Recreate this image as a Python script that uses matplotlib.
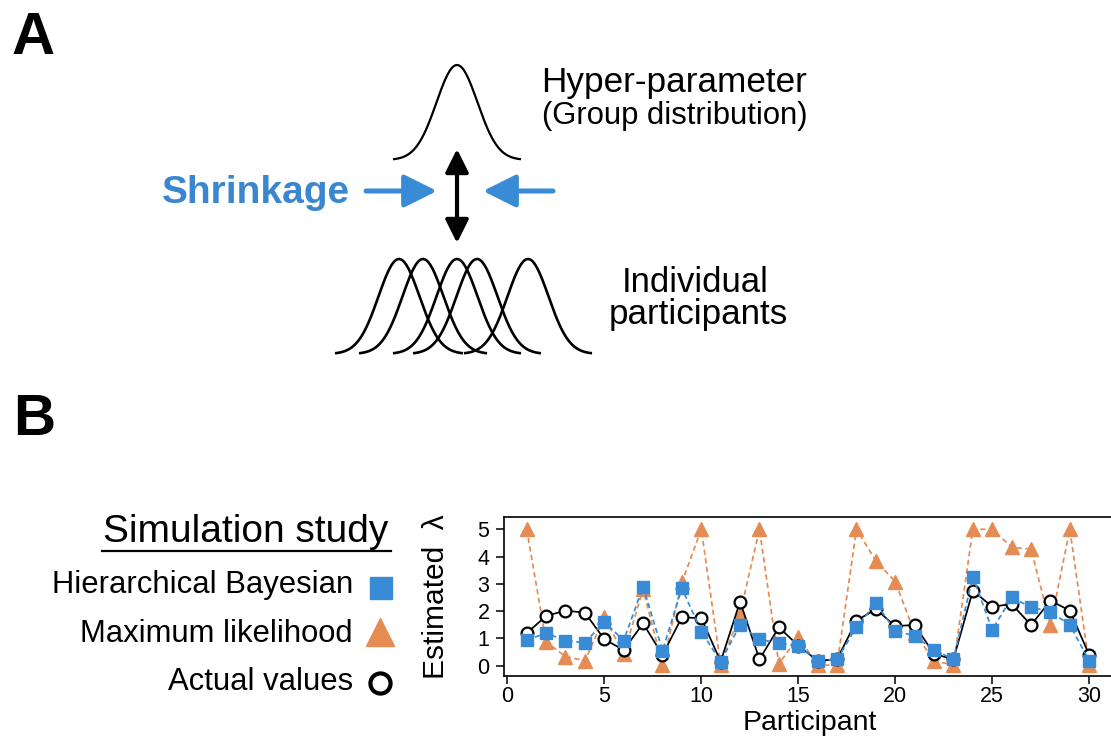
import numpy as np
import matplotlib
matplotlib.use("Agg")
import matplotlib.pyplot as plt
from matplotlib.patches import FancyArrowPatch

plt.rcParams['font.family'] = ['Liberation Sans', 'DejaVu Sans']

# ---------------- data ----------------
participants = list(range(1, 31))
hierarchical_bayes = [0.94, 1.19, 0.92, 0.84, 1.61, 0.92, 2.90, 0.55, 2.84, 1.25,
                      0.15, 1.49, 0.97, 0.82, 0.73, 0.18, 0.23, 1.41, 2.29, 1.28,
                      1.09, 0.57, 0.23, 3.26, 1.31, 2.50, 2.14, 1.98, 1.49, 0.18]
max_likelihood = [5.00, 0.88, 0.33, 0.18, 1.78, 0.43, 2.80, 0.02, 3.05, 5.00,
                  0.02, 1.90, 5.00, 0.06, 1.06, 0.02, 0.02, 5.00, 3.84, 3.08,
                  1.20, 0.18, 0.02, 5.00, 5.00, 4.34, 4.27, 1.49, 5.00, 0.02]
actual_values = [1.19, 1.82, 2.02, 1.94, 0.97, 0.57, 1.55, 0.39, 1.77, 1.74,
                 0.15, 2.35, 0.23, 1.41, 0.73, 0.18, 0.23, 1.65, 2.07, 1.45,
                 1.49, 0.43, 0.23, 2.75, 2.16, 2.26, 1.49, 2.38, 2.02, 0.39]
x_ticks = [0, 5, 10, 15, 20, 25, 30]
y_ticks = [0, 1, 2, 3, 4, 5]
legend_labels = ["Hierarchical Bayesian", "Maximum likelihood", "Actual values"]

# schematic (panel A) curve centres
group_centre = [457]
individual_centres = [399, 423, 457, 477, 528]

BLUE = '#3a8bd6'
ORANGE = '#e58c54'
TEXT_BLUE = '#3a86cf'

W, H = 1111, 736
fig = plt.figure(figsize=(W / 100, H / 100), dpi=100)

# overlay axes in pixel coordinates for panel A / legend
ax0 = fig.add_axes([0, 0, 1, 1])
ax0.set_xlim(0, W)
ax0.set_ylim(H, 0)
ax0.set_axis_off()

ax0.text(12, 54, "A", fontsize=43, fontweight='bold', ha='left', va='baseline')
ax0.text(13, 435, "B", fontsize=42, fontweight='bold', ha='left', va='baseline')

sigma = 20.5
half = 64
amp = 95


def gauss(c, base):
    xs = np.linspace(c - half, c + half, 200)
    ys = base - amp * np.exp(-(xs - c) ** 2 / (2 * sigma ** 2))
    return xs, ys


for c in group_centre:
    xs, ys = gauss(c, 160)
    ax0.plot(xs, ys, color='black', lw=1.6, solid_capstyle='butt')
for c in individual_centres:
    xs, ys = gauss(c, 354)
    ax0.plot(xs, ys, color='black', lw=1.9, solid_capstyle='butt')

# double-headed black arrow
ax0.add_patch(FancyArrowPatch((457, 149), (457, 243),
                              arrowstyle='<|-|>,head_length=14,head_width=7',
                              mutation_scale=1, lw=3.0, color='black',
                              shrinkA=0, shrinkB=0))
# blue shrinkage arrows
ax0.add_patch(FancyArrowPatch((366, 191), (437, 191),
                              arrowstyle='-|>,head_length=20,head_width=10',
                              mutation_scale=1, lw=3.6, color=BLUE,
                              shrinkA=0, shrinkB=0))
ax0.add_patch(FancyArrowPatch((553, 191), (483, 191),
                              arrowstyle='-|>,head_length=20,head_width=10',
                              mutation_scale=1, lw=3.6, color=BLUE,
                              shrinkA=0, shrinkB=0))

ax0.text(256, 203, "Shrinkage", fontsize=28, fontweight='bold', color=TEXT_BLUE,
         ha='center', va='baseline')
ax0.text(674.5, 92, "Hyper-parameter", fontsize=25.3, ha='center', va='baseline')
ax0.text(674.5, 124, "(Group distribution)", fontsize=22.3, ha='center', va='baseline')
ax0.text(695, 292, "Individual", fontsize=25, ha='center', va='baseline')
ax0.text(698, 324, "participants", fontsize=25.2, ha='center', va='baseline')

# legend block
ax0.text(245.5, 542, "Simulation study", fontsize=28, ha='center', va='baseline')
ax0.plot([102, 391], [551, 551], color='black', lw=1.6)
ax0.text(353, 593.5, legend_labels[0], fontsize=22.3, ha='right', va='baseline')
ax0.text(353, 642, legend_labels[1], fontsize=22.3, ha='right', va='baseline')
ax0.text(353, 690, legend_labels[2], fontsize=22.3, ha='right', va='baseline')
ax0.plot([380.5], [587.5], marker='s', ms=16.5, color=BLUE, mec=BLUE, ls='none')
ax0.plot([379.7], [631.5], marker='^', ms=20, color=ORANGE, mec=ORANGE, ls='none')
ax0.plot([380], [682.5], marker='o', ms=14.5, mfc='white', mec='black', mew=3, ls='none')

# ---------------- panel B plot ----------------
left_px, right_px, top_px, bottom_px = 504, 1116, 517, 676
ax = fig.add_axes([left_px / W, 1 - bottom_px / H,
                   (right_px - left_px) / W, (bottom_px - top_px) / H])
ax.set_xlim(-0.17, 31.38)
ax.set_ylim(-0.38, 5.45)

ax.plot(participants, max_likelihood, ls=(0, (3, 2)), lw=1.25, color=ORANGE,
        marker='^', ms=10.5, mfc=ORANGE, mec=ORANGE, zorder=2)
ax.plot(participants, actual_values, ls='-', lw=1.25, color='black',
        marker='o', ms=8.5, mfc='white', mec='black', mew=1.6, zorder=3)
ax.plot(participants, hierarchical_bayes, ls=(0, (3, 2)), lw=1.25, color=BLUE,
        marker='s', ms=8.8, mfc=BLUE, mec=BLUE, zorder=4)

ax.set_xticks(x_ticks)
ax.set_yticks(y_ticks)
ax.tick_params(direction='out', length=5.5, width=1.1, labelsize=15.5, color='black')
ax.tick_params(axis='x', pad=1.5)
ax.tick_params(axis='y', pad=5.0)
for s in ax.spines.values():
    s.set_linewidth(1.2)

ax.set_ylabel("Estimated  \u03bb", fontsize=21.5)
ax.yaxis.set_label_coords(-0.088, 0.5)
ax.set_xlabel("Participant", fontsize=20.5)
ax.xaxis.label.set_va('baseline')
ax.xaxis.set_label_coords(0.5, (H - 729.5 - (H - bottom_px)) / (bottom_px - top_px))

fig.savefig("out.png", dpi=100)
